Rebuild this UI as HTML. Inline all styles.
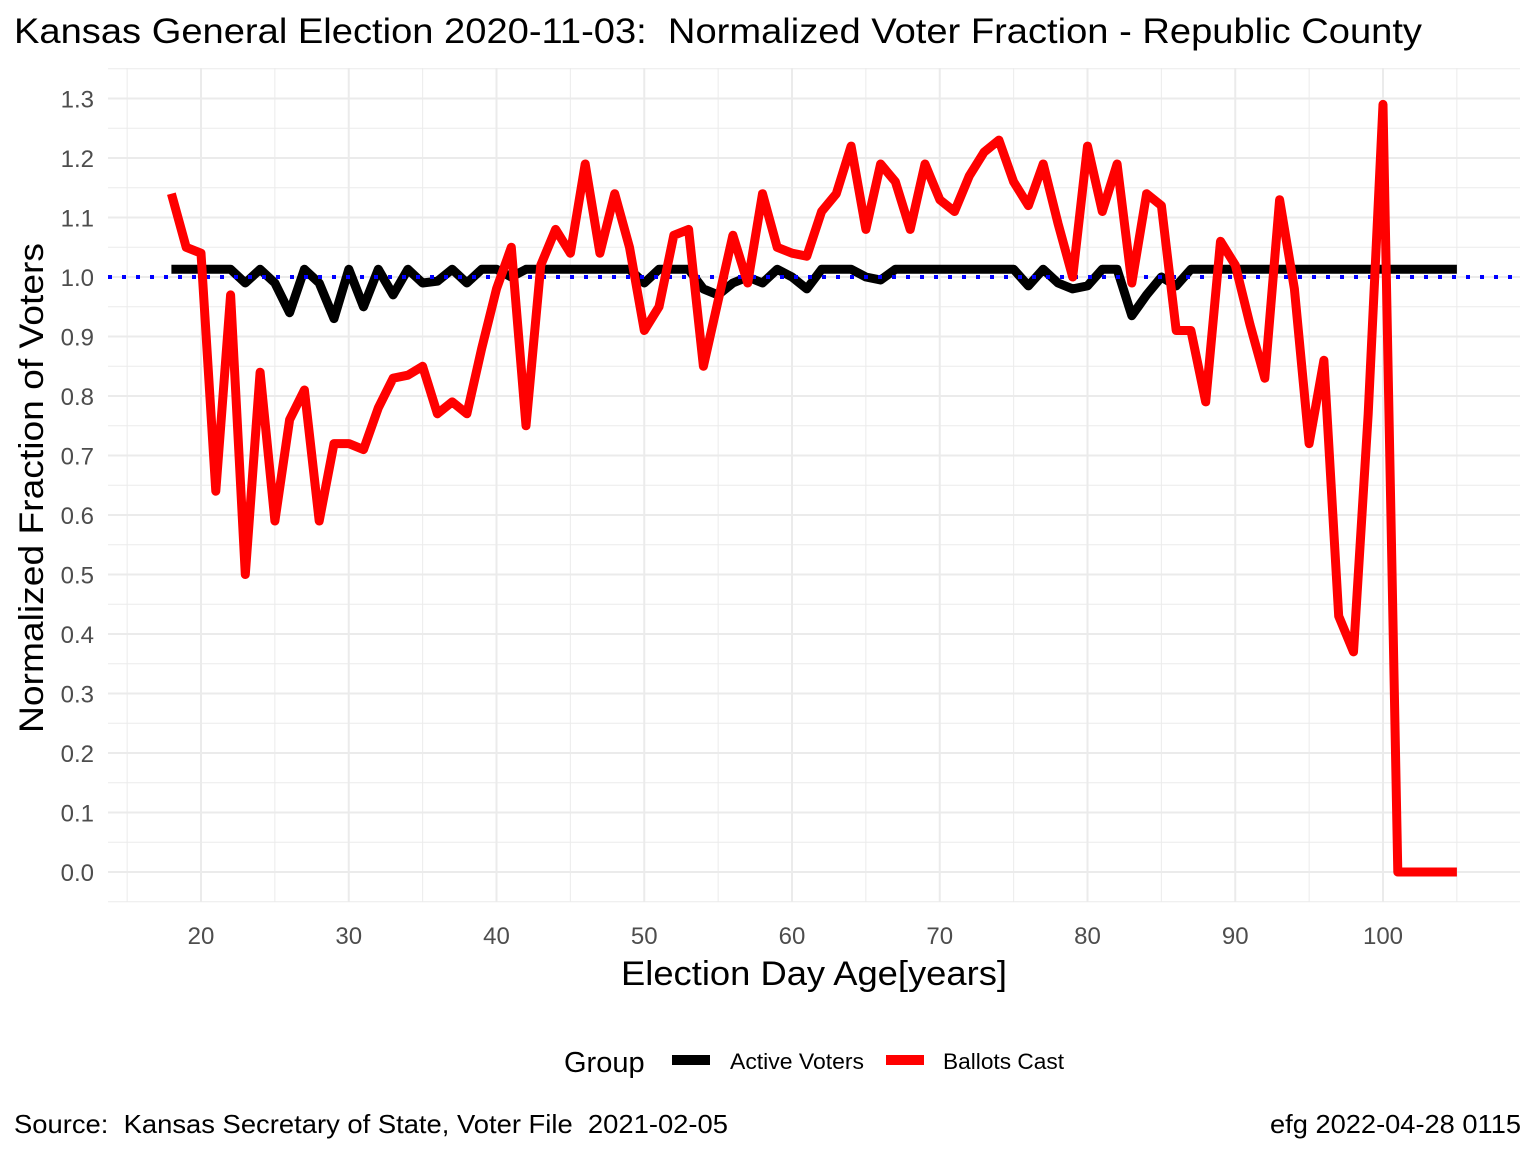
<!DOCTYPE html>
<html><head><meta charset="utf-8"><style>
body{margin:0;background:#fff;font-family:"Liberation Sans",sans-serif;}
svg text{font-family:"Liberation Sans",sans-serif;white-space:pre;}
</style></head><body>
<svg id="chart" width="1536" height="1152" xmlns="http://www.w3.org/2000/svg" xml:space="preserve">
<rect width="1536" height="1152" fill="#fff"/>
<text x="14" y="43" font-size="35" fill="#000" textLength="1408" lengthAdjust="spacingAndGlyphs">Kansas General Election 2020-11-03:  Normalized Voter Fraction - Republic County</text>
<g id="grid"></g>
<g id="ticks"></g>
<g id="series"></g>
<text x="814" y="985" font-size="34" text-anchor="middle" fill="#000" textLength="386" lengthAdjust="spacingAndGlyphs">Election Day Age[years]</text>
<text transform="translate(43,488) rotate(-90)" font-size="34" text-anchor="middle" fill="#000" textLength="490" lengthAdjust="spacingAndGlyphs">Normalized Fraction of Voters</text>
<g>
<text x="564" y="1072" font-size="29" fill="#000">Group</text>
<rect x="672" y="1055" width="38" height="10" fill="#000"/>
<text x="730" y="1069" font-size="22" fill="#000" textLength="134" lengthAdjust="spacingAndGlyphs">Active Voters</text>
<rect x="886" y="1055" width="38" height="10" fill="#ff0000"/>
<text x="943" y="1069" font-size="22" fill="#000" textLength="121" lengthAdjust="spacingAndGlyphs">Ballots Cast</text>
</g>
<text x="14" y="1133" font-size="26" fill="#000" textLength="714" lengthAdjust="spacingAndGlyphs">Source:  Kansas Secretary of State, Voter File  2021-02-05</text>
<text x="1521" y="1133" font-size="26" text-anchor="end" fill="#000" textLength="251" lengthAdjust="spacingAndGlyphs">efg 2022-04-28 0115</text>
</svg>
<script>
const ages = [];
for (let a = 18; a <= 105; a++) ages.push(a);
const ballotsCast = [1.14,1.05,1.04,0.64,0.97,0.50,0.84,0.59,0.76,0.81,0.59,0.72,0.72,0.71,0.78,0.83,0.835,0.85,0.77,0.79,0.77,0.88,0.98,1.05,0.75,1.02,1.08,1.04,1.19,1.04,1.14,1.05,0.91,0.95,1.07,1.08,0.85,0.96,1.07,0.99,1.14,1.05,1.04,1.035,1.11,1.14,1.22,1.08,1.19,1.16,1.08,1.19,1.13,1.11,1.17,1.21,1.23,1.16,1.12,1.19,1.09,1.00,1.22,1.11,1.19,0.99,1.14,1.12,0.91,0.91,0.79,1.06,1.02,0.92,0.83,1.13,0.98,0.72,0.86,0.43,0.37,0.77,1.29,0,0,0,0,0];
const activeVoters = [1.013,1.013,1.013,1.013,1.013,0.99,1.013,0.99,0.94,1.013,0.99,0.93,1.013,0.95,1.013,0.97,1.013,0.99,0.993,1.013,0.99,1.013,1.013,1.0,1.013,1.013,1.013,1.013,1.013,1.013,1.013,1.013,0.99,1.013,1.013,1.013,0.98,0.97,0.99,1.0,0.99,1.013,1.0,0.98,1.013,1.013,1.013,1.0,0.995,1.013,1.013,1.013,1.013,1.013,1.013,1.013,1.013,1.013,0.985,1.013,0.99,0.98,0.985,1.013,1.013,0.935,0.97,1.0,0.985,1.013,1.013,1.013,1.013,1.013,1.013,1.013,1.013,1.013,1.013,1.013,1.013,1.013,1.013,1.013,1.013,1.013,1.013,1.013];
const xTicks = [20,30,40,50,60,70,80,90,100];
const yTicks = [0,0.1,0.2,0.3,0.4,0.5,0.6,0.7,0.8,0.9,1.0,1.1,1.2,1.3];
const refLine = [1.0];
const X = a => 201 + (a - 20) * (1182 / 80);
const Y = v => 872 - v * 595;
const NS = "http://www.w3.org/2000/svg";
function mk(tag, attrs, parent) { const e = document.createElementNS(NS, tag); for (const k in attrs) e.setAttribute(k, attrs[k]); parent.appendChild(e); return e; }
const grid = document.getElementById('grid'), ticks = document.getElementById('ticks'), series = document.getElementById('series');
const L = 108, R = 1520, T = 68, B = 902;
for (let a = 15; a <= 105; a += 5) {
  const major = a % 10 === 0;
  const l = mk('line', {x1: X(a), x2: X(a), y1: T, y2: B, stroke: '#ebebeb', 'stroke-width': major ? 2 : 1}, grid);
  
  
}
for (let v = -0.05; v <= 1.36; v += 0.05) {
  const major = Math.abs(Math.round(v * 20) % 2) === 0;
  const l = mk('line', {x1: L, x2: R, y1: Y(v), y2: Y(v), stroke: '#ebebeb', 'stroke-width': major ? 2 : 1}, grid);
  
  
}
xTicks.forEach(t => {
  const e = mk('text', {x: X(t), y: 944, 'font-size': 24, 'text-anchor': 'middle', fill: '#4d4d4d'}, ticks);
  e.textContent = t;
  
  
});
yTicks.forEach(t => {
  const e = mk('text', {x: 94, y: Y(t) + 9, 'font-size': 24, 'text-anchor': 'end', fill: '#4d4d4d'}, ticks);
  e.textContent = t.toFixed(1);
  
  
});
function path(vals, color, name) {
  const d = vals.map((v, i) => (i ? 'L' : 'M') + X(ages[i]).toFixed(1) + ',' + Y(v).toFixed(1)).join('');
  const p = mk('path', {d, fill: 'none', stroke: color, 'stroke-width': 9, 'stroke-linejoin': 'round'}, series);
  
  
}
path(activeVoters, '#000', 'active-voters-line');
const ref = mk('line', {x1: L, x2: R, y1: Y(refLine[0]), y2: Y(refLine[0]), stroke: '#0000ff', 'stroke-width': 4, 'stroke-dasharray': '4 10'}, series);


path(ballotsCast, '#ff0000', 'ballots-cast-line');
</script>
</body></html>
